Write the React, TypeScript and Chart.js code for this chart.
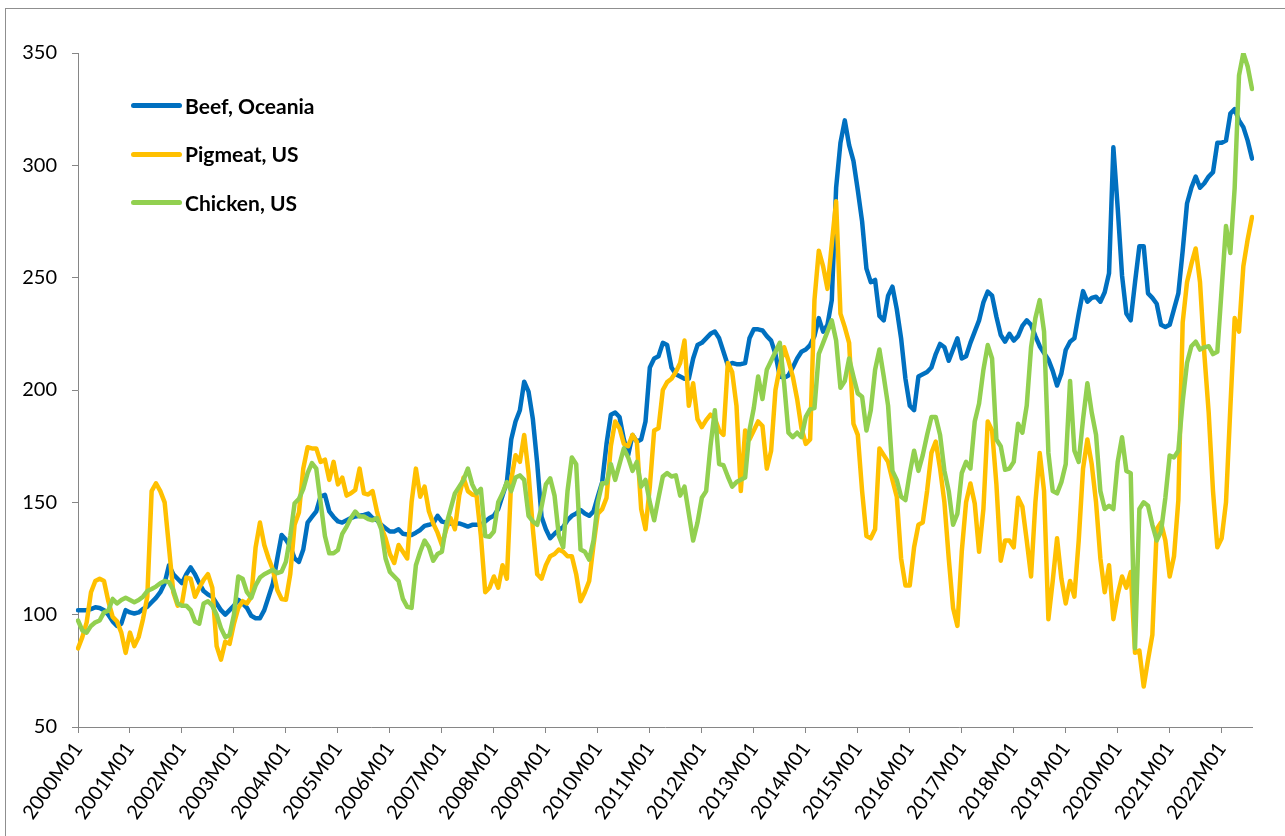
import React, { useEffect, useRef } from 'react';
import { Chart, registerables } from 'chart.js';

Chart.register(...registerables);

const startYear = 2000;
const monthCount = 272;
const months: string[] = Array.from(
  { length: monthCount },
  (_, i) => `${startYear + Math.floor(i / 12)}M${String((i % 12) + 1).padStart(2, '0')}`
);

const beef: number[] = [
  102, 102, 102, 102.5, 103.3, 103, 102, 100, 97, 95, 96, 102,
  101, 100.5, 101, 102.5, 103.5, 105.5, 107.5, 110, 114, 122, 118, 116,
  114, 118, 121, 118, 114, 110.5, 109, 108, 105, 102, 100, 102,
  104, 106.6, 105, 103, 99.5, 98.4, 98.4, 102, 108, 114, 125, 135.5,
  133.3, 130.3, 125, 123.5, 129, 141, 143.5, 146, 152.6, 153.3, 146, 143.5,
  141.5, 141, 142, 143, 143.7, 144, 144.4, 145, 143, 142, 140, 138.5,
  137, 137, 138, 136, 135.7, 135.5, 136.5, 137.7, 139.5, 140, 140.6, 144,
  141.4, 141, 140.6, 140.6, 140.6, 140, 139.2, 140, 140, 140, 141.5, 143,
  144, 147, 153, 159, 178, 186, 191, 203.7, 199.3, 187, 167.4, 143.6,
  138, 134, 136, 137.7, 139, 142, 144, 145, 146.6, 145, 144, 146,
  152.6, 159, 176, 189, 190, 188, 178, 171, 180, 177, 178, 186,
  210, 214, 215, 221, 220, 210, 207, 206, 205, 205, 214, 220,
  221, 223, 225, 226, 223, 217, 211, 212, 211.5, 211.5, 212, 223,
  227, 227, 226.5, 224, 222, 216, 206, 205.5, 206.5, 210, 214, 217,
  218, 220, 224, 232, 226, 229, 240, 290, 310, 320, 309, 302,
  289, 275, 254, 248, 249, 233, 231, 242, 246, 236, 223, 205,
  193, 191, 206, 207, 208, 210, 216, 220.5, 219, 213, 218, 223,
  214, 215, 221, 226, 231, 239, 243.8, 242, 232.6, 224.5, 221.5, 225,
  222, 224, 228.5, 231, 229, 224, 219.5, 216.5, 213.5, 208.5, 202, 207.4,
  217.8, 221.5, 223, 234, 244, 239.3, 241, 241.5, 239.3, 243.5, 252, 308,
  281, 251, 234, 231, 248, 264, 264, 243, 241, 238.4, 229, 228,
  229, 236, 243, 262, 283, 290, 295, 290, 292, 295, 297, 310,
  310, 311, 323, 325, 320, 317, 311, 303,
];

const pigmeat: number[] = [
  85, 90, 96.6, 110, 115, 116, 115, 106, 99, 97, 92, 83,
  92, 86, 90, 98, 108, 155, 158.5, 155, 150, 130, 110, 104,
  105, 116.5, 116, 108, 112, 115.5, 118, 112, 86, 80, 88, 87,
  96, 103, 106, 105, 108, 130, 141, 131, 125, 120, 111, 107,
  106.6, 118, 140, 145.5, 165, 174.5, 174, 174, 168, 169, 160, 168,
  158, 161, 153, 154, 155.5, 165, 154, 153.5, 155, 146, 139, 134,
  127, 123, 131, 128, 125, 150, 165, 152.5, 157, 146, 140.6, 136.5,
  131, 138, 143, 138, 153, 161, 155, 153.5, 153, 135, 110, 112,
  117, 112, 122, 116, 160, 171, 168, 180, 163, 138, 118, 116,
  122, 126, 127, 129, 128, 126, 126, 118, 106, 110, 115, 131,
  145, 147, 152, 175, 186, 183, 176, 175, 180, 177, 147, 138,
  157, 182, 183, 200, 203.5, 205, 208, 212, 222, 193, 203, 187,
  183.5, 186.6, 189, 187.4, 182, 180, 212, 208, 193, 155, 182, 178,
  182, 186, 184, 165, 173, 200, 210, 219, 213, 206, 196, 183,
  176, 178, 240, 262, 255, 245, 265, 284, 234, 228, 221, 185,
  180, 155, 135, 134, 138, 174, 171, 168, 160, 152.5, 125, 113,
  113, 130, 140, 141, 155, 172, 177, 165, 150, 125, 103, 95,
  128, 150, 158.4, 149.5, 128, 147, 186, 182, 158, 124, 133, 133,
  130, 152, 148, 133, 117, 150, 172, 155, 98, 115, 134, 116,
  105, 115, 108, 133, 165, 178, 167, 150, 125, 110, 122, 98,
  109, 117, 112, 119, 83, 84, 68, 80, 91, 138, 141, 133,
  117, 126, 151, 230, 248, 256, 263, 248, 216, 190, 155, 130,
  134, 150, 192, 232, 226, 255, 267, 277,
];

const chicken: number[] = [
  97.4, 93, 92, 95, 96.6, 97.4, 101, 101.8, 107, 105, 106.5, 107.5,
  106.5, 105.5, 106.5, 108, 110.5, 111.4, 112.5, 114, 115, 114.5, 111, 105,
  104, 104, 102, 97, 96, 105, 106, 104, 100, 94, 90, 91,
  100, 117, 116, 110, 107.5, 113, 116.5, 118, 119, 120, 118.5, 119.2,
  123.6, 135, 149.6, 151.5, 156, 163, 167.5, 165, 150, 135, 127.3, 127.3,
  128.8, 136, 139.2, 143, 145.9, 143.7, 143.7, 142.5, 142, 143, 138, 125,
  119, 117, 115, 107, 103.5, 103, 122, 128, 133, 130, 124, 127,
  128, 140, 147, 154, 157, 160, 165, 158, 154, 156, 135, 134.7,
  137, 150, 154, 159, 155, 161, 162, 160, 144, 141.5, 140, 148,
  158, 160.7, 153, 135, 130, 155, 170, 167, 129, 128, 124.5, 133,
  150, 158.5, 158.5, 167, 160, 167, 174, 170, 164, 168, 157, 160,
  150, 142, 152, 161.5, 163, 161.5, 162, 153, 157, 145, 133, 141,
  152, 155, 175, 191, 167, 166.5, 161.5, 157, 159, 160, 161, 182,
  192, 206, 196, 209, 213, 217, 221, 203, 181, 179, 181, 179,
  188, 191.5, 192, 216, 221, 226, 231, 222, 201, 204, 214, 206,
  198.5, 197, 182, 191, 209, 218, 206, 193, 164, 160, 152.5, 151,
  163, 173, 164, 171, 180, 188, 188, 180, 164, 155, 140, 145,
  163, 168, 165, 186, 194, 209, 220, 214, 178, 175, 164.5, 165,
  168, 185, 181, 193, 219, 232, 240, 226, 172, 155, 154, 159,
  167, 204, 173, 168, 187, 203, 190, 180, 155, 147, 148.5, 147,
  168, 179, 164, 163, 85, 147, 150, 148.5, 140, 133, 137, 152,
  170.8, 170, 173, 195, 212, 219.5, 221.5, 218, 219, 219.5, 216, 217,
  245, 273, 261, 290, 340, 350, 344, 334,
];

const seriesNames = ['Beef, Oceania', 'Pigmeat, US', 'Chicken, US'];
const seriesColors = ['#0070C0', '#FFC000', '#92D050'];
const yMin = 50;
const yMax = 350;
const yStep = 50;

const FONT = 'Lato, "Liberation Sans", sans-serif';
const AXIS = '#868686';

export default function App() {
  const ref = useRef<HTMLCanvasElement>(null);

  useEffect(() => {
    const canvas = ref.current;
    if (!canvas) return;
    const values = [beef, pigmeat, chicken];
    const chart = new Chart(canvas, {
      type: 'line',
      data: {
        labels: months,
        datasets: values.map((d, k) => ({
          label: seriesNames[k],
          data: d,
          borderColor: seriesColors[k],
          backgroundColor: seriesColors[k],
          borderWidth: 4.5,
          pointRadius: 0,
          tension: 0,
          borderJoinStyle: 'round' as const,
          borderCapStyle: 'round' as const,
          fill: false,
          order: 3 - k,
        })),
      },
      options: {
        animation: false,
        responsive: false,
        devicePixelRatio: 1,
        layout: { padding: { top: 53, right: 33, left: 0, bottom: 0 } },
        plugins: { legend: { display: false }, tooltip: { enabled: false }, title: { display: false } },
        scales: {
          x: {
            type: 'category',
            offset: false,
            grid: {
              display: true,
              drawOnChartArea: false,
              drawTicks: true,
              tickLength: 6,
              lineWidth: 1,
              color: (c: any) => (c.index % 12 === 0 ? AXIS : 'rgba(0,0,0,0)'),
            },
            border: { display: true, color: AXIS, width: 1 },
            ticks: {
              autoSkip: false,
              maxRotation: 55,
              minRotation: 55,
              padding: 5,
              color: '#000',
              font: { family: FONT, size: 20 },
              callback: (_v: any, i: number) => (i % 12 === 0 ? months[i] : ''),
            },
            afterFit: (s: any) => {
              s.height = 109;
            },
          },
          y: {
            min: yMin,
            max: yMax,
            grid: { drawOnChartArea: false, drawTicks: true, tickLength: 6, color: AXIS },
            border: { display: true, color: AXIS, width: 1 },
            ticks: {
              stepSize: yStep,
              padding: 15,
              color: '#000',
              font: { family: FONT, size: 20 },
            },
            afterFit: (s: any) => {
              s.width = 78;
            },
          },
        },
      },
    });
    return () => chart.destroy();
  }, []);

  return (
    <div
      style={{
        position: 'fixed',
        left: 0,
        top: 0,
        width: 1285,
        height: 836,
        background: '#fff',
        overflow: 'hidden',
      }}
    >
      <div
        style={{
          position: 'absolute',
          left: 5,
          top: 8,
          width: 1300,
          height: 900,
          border: '1px solid #8f8f8f',
        }}
      />
      <canvas
        ref={ref}
        width={1285}
        height={836}
        style={{ position: 'absolute', left: 0, top: 0, width: 1285, height: 836 }}
      />
      {seriesNames.map((name, k) => (
        <div key={name}>
          <div
            style={{
              position: 'absolute',
              left: 131,
              top: 103 + k * 48.5,
              width: 51,
              height: 5,
              borderRadius: 3,
              background: seriesColors[k],
            }}
          />
          <div
            style={{
              position: 'absolute',
              left: 185,
              top: 92.5 + k * 48.5,
              height: 26,
              lineHeight: '26px',
              fontFamily: FONT,
              fontWeight: 700,
              fontSize: 21,
              color: '#000',
              whiteSpace: 'nowrap',
            }}
          >
            {name}
          </div>
        </div>
      ))}
    </div>
  );
}
